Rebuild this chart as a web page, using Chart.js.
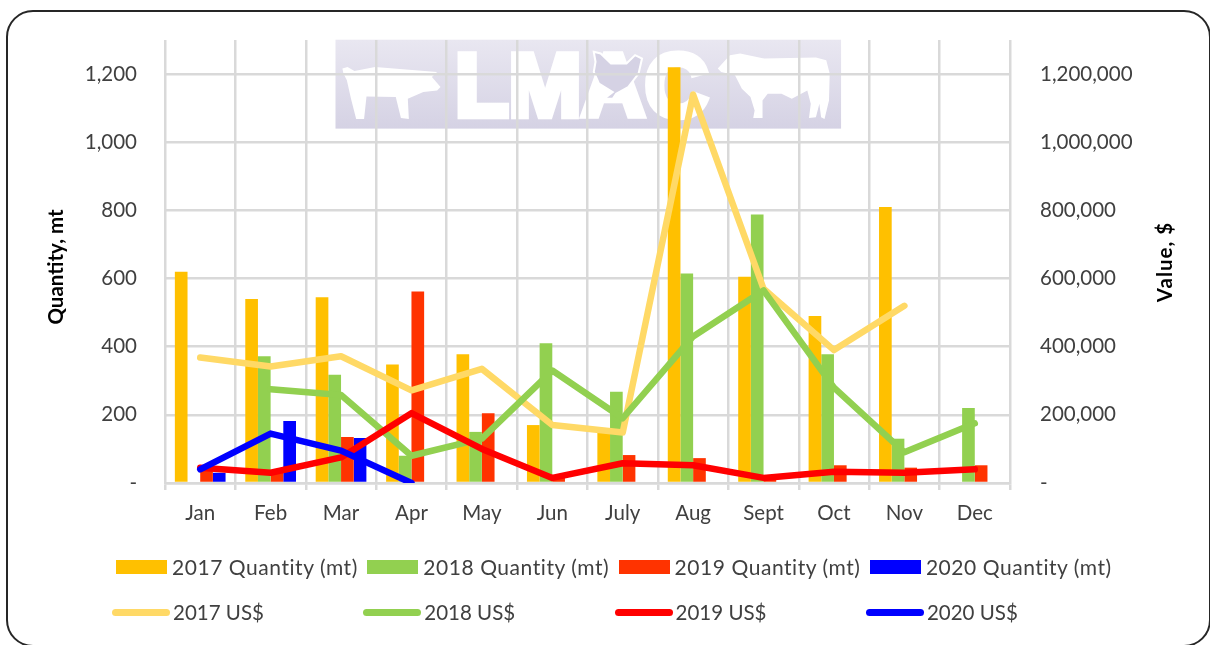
<!DOCTYPE html>
<html lang="en">
<head>
  <meta charset="UTF-8">
  <title>LMAC Quantity and Value</title>
  <script src="https://cdn.jsdelivr.net/npm/chart.js"></script>
  <style>
    html, body {
      margin: 0;
      width: 1210px;
      height: 645px;
      overflow: hidden;
      background: #fff;
      font-family: Lato, sans-serif;
    }
    #frame {
      position: absolute;
      left: 6px;
      top: 10px;
      width: 1205px;
      height: 637px;
      box-sizing: border-box;
      border: 2px solid #262626;
      border-radius: 27px;
    }
    #logo {
      position: absolute;
      left: 320px;
      top: 30px;
      width: 540px;
      height: 107px;
    }
    #chart {
      position: absolute;
      left: 0;
      top: 0;
    }
    .legend-item {
      position: absolute;
      height: 30px;
      line-height: 30px;
      font-size: 20.5px;
      color: #404040;
      white-space: nowrap;
    }
    .legend-item.wide {
      font-size: 21px;
      letter-spacing: 0.55px;
    }
    .legend-item i {
      position: absolute;
      display: block;
    }
  </style>
</head>
<body>
<div id="frame"></div>
<svg id="logo" viewBox="0 0 1568 319" preserveAspectRatio="none">
  <defs>
    <linearGradient id="logoFill" x1="0" y1="0" x2="0" y2="1">
      <stop offset="0" stop-color="#e9e7f1"/>
      <stop offset="1" stop-color="#d5d2e4"/>
    </linearGradient>
  </defs>
  <rect x="45" y="29" width="1468" height="265" fill="url(#logoFill)"/>
  <polygon fill="#fff" points="65,115 80,110 100,122 160,110 340,125 325,140 350,170 340,180 300,185 255,205 258,265 235,262 220,200 135,198 128,265 105,265 90,205 78,150 68,130"/>
  <text x="392" y="257" font-family="Liberation Sans" font-weight="bold" font-size="268" fill="#fff" stroke="#fff" stroke-width="20" textLength="735" lengthAdjust="spacingAndGlyphs">LMAC</text>
  <polygon fill="#d5d2e4" stroke="#fff" stroke-width="6" points="795,65 815,70 845,100 890,100 915,75 935,85 925,130 895,170 860,190 850,205 825,205 850,185 810,160 795,125 800,95"/>
  <polygon fill="#fff" points="1155,115 1190,75 1220,70 1290,85 1440,82 1470,90 1480,130 1478,210 1465,265 1455,260 1450,220 1440,260 1420,262 1425,220 1415,180 1370,205 1340,190 1300,190 1285,210 1285,262 1258,262 1262,240 1250,200 1225,175 1205,135 1165,125"/>
</svg>
<canvas id="chart" width="1210" height="645"></canvas>
<div id="legend"></div>

<script>
  const months = ['Jan', 'Feb', 'Mar', 'Apr', 'May', 'Jun', 'July', 'Aug', 'Sept', 'Oct', 'Nov', 'Dec'];

  const qty2017 = [620, 540, 545, 348, 378, 170, 150, 1220, 605, 490, 810, null];
  const qty2018 = [null, 372, 318, 80, 150, 410, 268, 615, 788, 378, 130, 220];
  const qty2019 = [45, 30, 135, 562, 205, 15, 82, 73, 15, 52, 45, 52];
  const qty2020 = [30, 182, 132, null, null, null, null, null, null, null, null, null];

  const usd2017 = [368000, 342000, 372000, 272000, 335000, 170000, 148000, 1140000, 570000, 390000, 520000, null];
  const usd2018 = [null, 275000, 258000, 80000, 130000, 330000, 190000, 430000, 565000, 280000, 90000, 175000];
  const usd2019 = [45000, 30000, 75000, 205000, 100000, 15000, 58000, 52000, 15000, 33000, 30000, 40000];
  const usd2020 = [40000, 145000, 95000, 0, null, null, null, null, null, null, null, null];

  const qtyTicks = [0, 200, 400, 600, 800, 1000, 1200];
  const usdTicks = [0, 200000, 400000, 600000, 800000, 1000000, 1200000];

  const textColor = '#404040';
  const gridColor = '#d9d9d9';
  const font = { family: 'Lato', size: 20.5 };

  function fmt(v) {
    return v === 0 ? '-' : v.toLocaleString('en-US');
  }

  function bar(label, data, color) {
    return { type: 'bar', label, data, backgroundColor: color, order: 5,
             barPercentage: 1, categoryPercentage: 0.72, yAxisID: 'y' };
  }

  function line(label, data, color, order) {
    return { type: 'line', label, data, borderColor: color, backgroundColor: color, order,
             borderWidth: 6.5, pointRadius: 0, tension: 0, borderCapStyle: 'round',
             borderJoinStyle: 'round', yAxisID: 'y1', clip: 0 };
  }

  // tick padding leaks into the layout margins, so fix the widths and drop it
  function fitWidth(s, width) {
    s.width = width;
    s.paddingTop = 0;
    s.paddingBottom = 0;
  }

  // the right hand title reads bottom to top, so both are drawn here
  const axisTitles = {
    id: 'axisTitles',
    afterDraw(c) {
      const ctx = c.ctx;
      ctx.save();
      ctx.font = 'bold 20.5px Lato';
      ctx.fillStyle = '#000';
      ctx.textAlign = 'center';
      ctx.textBaseline = 'middle';
      [[56, 267, 'Quantity, mt', '0px'], [1165, 262, 'Value, $', '1px']].forEach(([x, y, text, spacing]) => {
        ctx.save();
        ctx.translate(x, y);
        ctx.rotate(-Math.PI / 2);
        ctx.letterSpacing = spacing;
        ctx.fillText(text, 0, 0);
        ctx.restore();
      });
      ctx.restore();
    }
  };

  const chart = new Chart(document.getElementById('chart'), {
    data: {
      labels: months,
      datasets: [
        bar('2017 Quantity (mt)', qty2017, '#ffc000'),
        bar('2018 Quantity (mt)', qty2018, '#92d050'),
        bar('2019 Quantity (mt)', qty2019, '#ff3300'),
        bar('2020 Quantity (mt)', qty2020, '#0000ff'),
        line('2017 US$', usd2017, '#ffd966', 4),
        line('2018 US$', usd2018, '#92d050', 3),
        line('2019 US$', usd2019, '#ff0000', 2),
        line('2020 US$', usd2020, '#0000ff', 1)
      ]
    },
    options: {
      responsive: false,
      animation: false,
      layout: { autoPadding: false, padding: { top: 40 } },
      plugins: { legend: { display: false }, tooltip: { enabled: false } },
      scales: {
        x: {
          afterFit(s) { s.height = 162; },
          grid: { color: gridColor, lineWidth: 2.5, tickLength: 7, tickColor: gridColor },
          border: { color: gridColor, width: 2.5 },
          ticks: { color: textColor, font, padding: 11, maxRotation: 0, autoSkip: false }
        },
        y: {
          position: 'left',
          min: 0,
          max: 1300,
          afterFit(s) { fitWidth(s, 165); },
          afterBuildTicks(s) { s.ticks = qtyTicks.map(value => ({ value })); },
          grid: { color: gridColor, lineWidth: 2.5, drawTicks: false },
          border: { display: false },
          ticks: { color: textColor, font, padding: 28, callback: fmt }
        },
        y1: {
          position: 'right',
          min: 0,
          max: 1300000,
          afterFit(s) { fitWidth(s, 200); },
          afterBuildTicks(s) { s.ticks = usdTicks.map(value => ({ value })); },
          grid: { display: false, drawTicks: false },
          border: { display: false },
          ticks: { color: textColor, font, padding: 30, callback: fmt }
        }
      }
    },
    plugins: [axisTitles]
  });

  // legend is two fixed rows of four, bars on top and lines underneath
  const legend = document.getElementById('legend');
  chart.data.datasets.forEach((ds, i) => {
    const isBar = ds.type === 'bar';
    const col = i % 4;
    const item = document.createElement('div');
    item.className = isBar ? 'legend-item wide' : 'legend-item';
    item.style.left = (isBar ? 116 : 112) + col * 251.3 + 'px';
    item.style.top = (isBar ? 552 : 597) + 'px';
    item.style.paddingLeft = (isBar ? 56 : 61) + 'px';
    item.textContent = ds.label;
    const key = document.createElement('i');
    key.style.left = 0;
    key.style.width = (isBar ? 51 : 58) + 'px';
    key.style.height = (isBar ? 14 : 7) + 'px';
    key.style.top = (isBar ? 8 : 12) + 'px';
    key.style.background = isBar ? ds.backgroundColor : ds.borderColor;
    key.style.borderRadius = isBar ? 0 : '4px';
    item.appendChild(key);
    legend.appendChild(item);
  });
</script>
</body>
</html>
